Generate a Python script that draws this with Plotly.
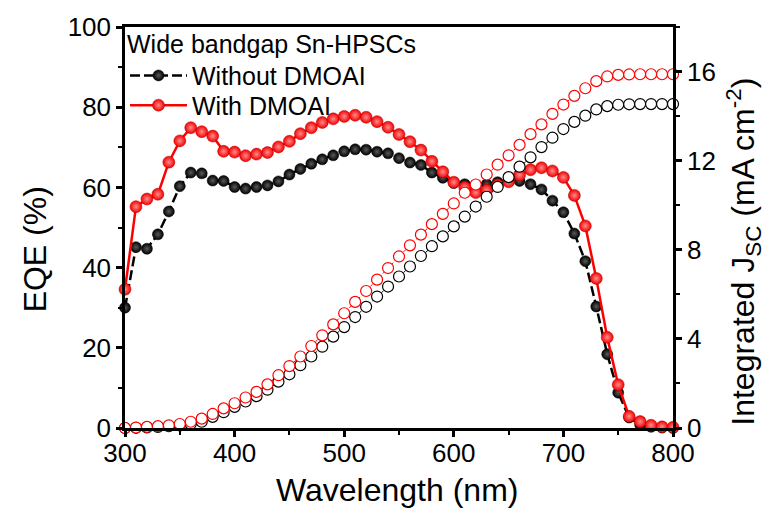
import plotly.graph_objects as go

wavelength = list(range(300, 801, 10))

eqe_without = [30.0, 45.1, 44.7, 48.3, 54.0, 60.3, 63.7, 63.5, 61.7, 61.6,
               60.1, 59.7, 60.1, 60.5, 61.5, 63.2, 64.6, 65.9, 67.0, 68.0,
               69.0, 69.5, 69.4, 68.9, 68.5, 67.3, 66.2, 65.6, 63.7, 62.4,
               61.1, 60.8, 60.4, 60.8, 61.3, 61.6, 61.6, 60.8, 59.5, 56.7,
               53.8, 48.5, 41.6, 30.3, 18.4, 8.8, 2.6, 0.8, 0.3, 0.1, 0.0]

eqe_with = [34.6, 55.2, 57.1, 58.3, 66.3, 71.6, 74.9, 73.9, 72.8, 69.0,
            68.8, 67.9, 68.3, 68.7, 70.1, 71.5, 73.4, 74.9, 76.2, 77.1,
            77.7, 78.0, 77.5, 76.4, 75.0, 73.2, 71.4, 69.3, 66.5, 63.9,
            61.3, 60.0, 58.7, 59.3, 60.6, 61.4, 63.1, 64.4, 64.9, 64.1,
            62.5, 58.0, 50.4, 37.3, 22.6, 10.8, 2.9, 1.6, 0.7, 0.3, 0.2]

jsc_without = [0.0, 0.01, 0.03, 0.05, 0.08, 0.12, 0.18, 0.28, 0.50, 0.71,
               0.95, 1.19, 1.43, 1.72, 2.08, 2.41, 2.82, 3.21, 3.65, 4.10,
               4.53, 4.98, 5.44, 5.90, 6.35, 6.80, 7.25, 7.72, 8.16, 8.60,
               9.05, 9.49, 9.94, 10.38, 10.82, 11.26, 11.73, 12.15, 12.61, 13.03,
               13.42, 13.74, 14.02, 14.30, 14.45, 14.51, 14.53, 14.54, 14.54, 14.54, 14.54]

jsc_with = [0.0, 0.02, 0.05, 0.08, 0.12, 0.18, 0.28, 0.42, 0.63, 0.88,
            1.11, 1.37, 1.62, 1.96, 2.37, 2.78, 3.21, 3.68, 4.16, 4.65,
            5.15, 5.66, 6.15, 6.66, 7.18, 7.70, 8.20, 8.68, 9.15, 9.61,
            10.08, 10.56, 10.93, 11.38, 11.82, 12.24, 12.71, 13.19, 13.63, 14.10,
            14.52, 14.91, 15.25, 15.57, 15.78, 15.85, 15.87, 15.88, 15.88, 15.88, 15.88]

x_ticks = [300, 400, 500, 600, 700, 800]
y_ticks = [0, 20, 40, 60, 80, 100]
y2_ticks = [0, 4, 8, 12, 16]

FONT = "Liberation Sans, Arial, sans-serif"
RED = "#ff0000"

fig = go.Figure()

# integrated Jsc (open circles, right axis)
fig.add_trace(go.Scatter(
    x=wavelength, y=jsc_without, yaxis="y2", mode="lines+markers",
    line=dict(color="black", width=1, dash="dot"),
    marker=dict(symbol="circle", size=11, color="white", line=dict(width=1.2, color="black")),
    showlegend=False, cliponaxis=False))
fig.add_trace(go.Scatter(
    x=wavelength, y=jsc_with, yaxis="y2", mode="lines+markers",
    line=dict(color=RED, width=1, dash="dot"),
    marker=dict(symbol="circle", size=11, color="white", line=dict(width=1.2, color=RED)),
    showlegend=False, cliponaxis=False))

# EQE (solid balls, left axis)
fig.add_trace(go.Scatter(
    x=wavelength, y=eqe_without, mode="lines+markers", name="Without DMOAI",
    legend="legend",
    line=dict(color="black", width=2.5, dash="10px,4px"),
    marker=dict(symbol="circle", size=11, color="black",
                gradient=dict(type="radial", color="#5a5a5a"),
                line=dict(width=0.5, color="black")),
    cliponaxis=False))
fig.add_trace(go.Scatter(
    x=wavelength, y=eqe_with, mode="lines+markers", name="With DMOAI",
    legend="legend2",
    line=dict(color=RED, width=2.5),
    marker=dict(symbol="circle", size=12, color="#f20000",
                gradient=dict(type="radial", color="#ff8c8c"),
                line=dict(width=0.5, color="#c00000")),
    cliponaxis=False))

axis_common = dict(
    showline=True, linewidth=2.5, linecolor="black", showgrid=False, zeroline=False,
    ticks="outside", ticklen=6, tickwidth=2.5, tickcolor="black",
    tickfont=dict(family=FONT, size=26, color="black"),
)

TITLE_SIZE = 32
LEG_SIZE = 25

fig.update_layout(
    width=776, height=519, autosize=False,
    margin=dict(l=125, r=103, t=24, b=91),
    paper_bgcolor="white", plot_bgcolor="white",
    font=dict(family=FONT, color="black"),
    xaxis=dict(range=[300, 800], tickvals=x_ticks, mirror=True, ticklabelstandoff=-6,
               minor=dict(dtick=50, ticklen=4, tickwidth=2, tickcolor="black", ticks="outside"),
               **axis_common),
    yaxis=dict(range=[0, 100], tickvals=y_ticks,
               minor=dict(dtick=10, ticklen=4, tickwidth=2, tickcolor="black", ticks="outside"),
               **axis_common),
    yaxis2=dict(range=[0, 18], tickvals=y2_ticks, overlaying="y", side="right",
                minor=dict(dtick=2, ticklen=4, tickwidth=2, tickcolor="black", ticks="outside"),
                **axis_common),
    legend=dict(x=0.0, y=1.017, xanchor="left", yanchor="top",
                bgcolor="rgba(0,0,0,0)", borderwidth=0,
                font=dict(family=FONT, size=LEG_SIZE, color="black"),
                title=dict(text="Wide bandgap Sn-HPSCs", font=dict(family=FONT, size=LEG_SIZE)),
                itemwidth=57),
    legend2=dict(x=0.0, y=0.8045, xanchor="left", yanchor="middle",
                 bgcolor="rgba(0,0,0,0)", borderwidth=0,
                 font=dict(family=FONT, size=LEG_SIZE, color="black"),
                 itemwidth=57),
    annotations=[
        dict(text="Wavelength (nm)", xref="paper", yref="paper", x=0.4964, y=-0.1535,
             showarrow=False, xanchor="center", yanchor="middle",
             font=dict(family=FONT, size=TITLE_SIZE, color="black")),
        dict(text="EQE (%)", xref="paper", yref="paper", x=-0.1642, y=0.4455,
             showarrow=False, xanchor="center", yanchor="middle", textangle=-90,
             font=dict(family=FONT, size=TITLE_SIZE, color="black")),
        dict(text="Integrated J<sub>SC</sub> (mA cm<sup>-2</sup>)", xref="paper", yref="paper",
             x=1.128, y=0.44, showarrow=False, xanchor="center", yanchor="middle",
             textangle=-90, font=dict(family=FONT, size=TITLE_SIZE, color="black")),
    ],
)

fig.write_html("out.html")
